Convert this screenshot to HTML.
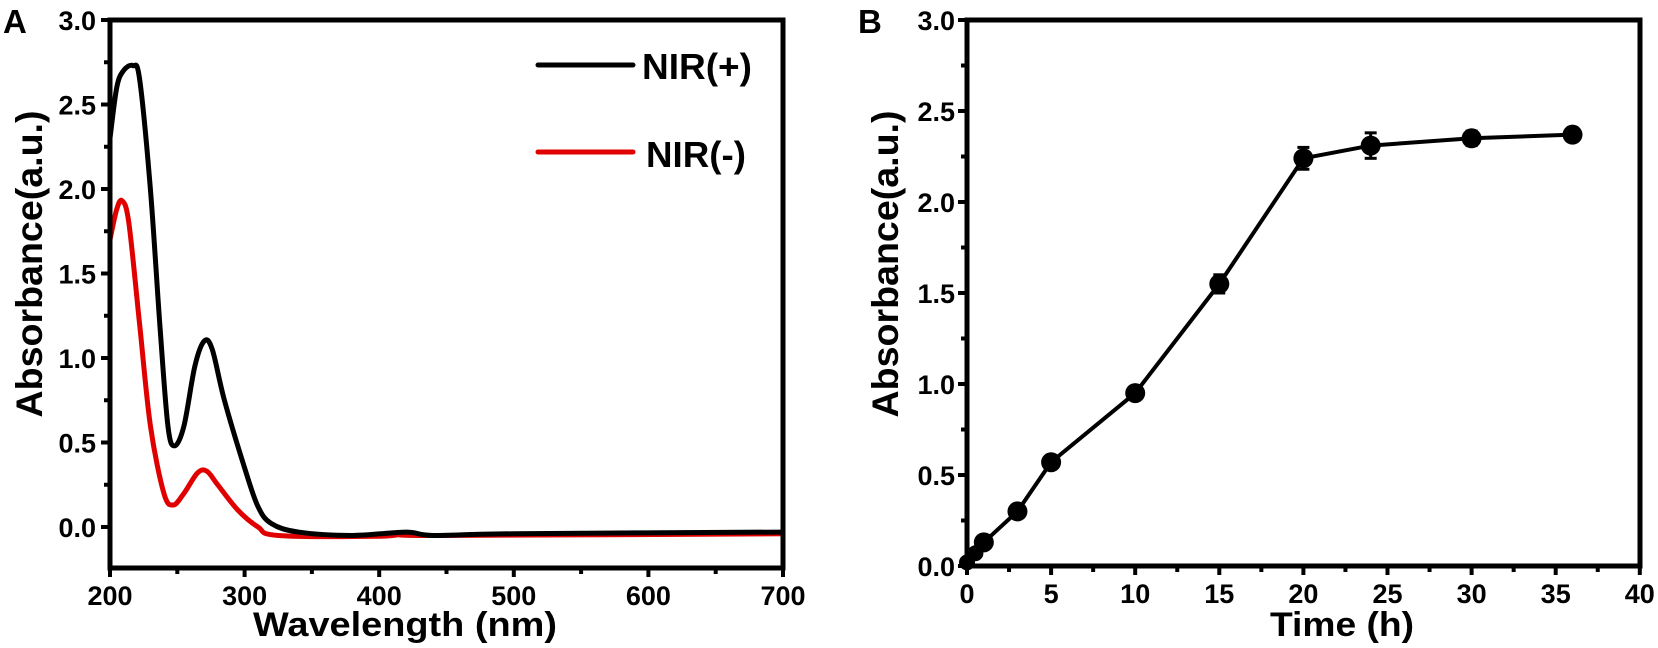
<!DOCTYPE html>
<html><head><meta charset="utf-8"><style>
html,body{margin:0;padding:0;background:#fff;}
svg{display:block;font-family:"Liberation Sans",Arial,sans-serif;font-weight:bold;}
</style></head><body>
<svg id="s" width="1658" height="648" viewBox="0 0 1658 648" xmlns="http://www.w3.org/2000/svg">
<text x="3" y="33" font-size="33">A</text>
<text x="858" y="33" font-size="33">B</text>
<g id="ga"></g><g id="gb"></g>
<text transform="translate(42,264) rotate(-90)" text-anchor="middle" font-size="37" textLength="307" lengthAdjust="spacingAndGlyphs">Absorbance(a.u.)</text>
<text transform="translate(898,264) rotate(-90)" text-anchor="middle" font-size="37" textLength="307" lengthAdjust="spacingAndGlyphs">Absorbance(a.u.)</text>
<text x="405" y="636" text-anchor="middle" font-size="34" textLength="304" lengthAdjust="spacingAndGlyphs">Wavelength (nm)</text>
<text x="1342" y="636" text-anchor="middle" font-size="34" textLength="144" lengthAdjust="spacingAndGlyphs">Time (h)</text>
<line x1="538" y1="65" x2="633" y2="65" stroke="#000" stroke-width="5" stroke-linecap="round"/>
<text x="642" y="79" font-size="36" textLength="110" lengthAdjust="spacingAndGlyphs">NIR(+)</text>
<line x1="538" y1="152" x2="633" y2="152" stroke="#e00000" stroke-width="5" stroke-linecap="round"/>
<text x="646" y="167" font-size="36" textLength="100" lengthAdjust="spacingAndGlyphs">NIR(-)</text>
</svg>
<script>
var NS="http://www.w3.org/2000/svg";
function el(p,t,a,txt){var e=document.createElementNS(NS,t);for(var k in a)e.setAttribute(k,a[k]);if(txt!==undefined)e.textContent=txt;p.appendChild(e);return e;}
var ga=document.getElementById('ga'),gb=document.getElementById('gb');
var L=110,R=783,T=20,B=568;
function ax(w){return L+(w-200)*1.346;} function ay(v){return 527-v*169;}
function smooth(pts,xf,yf){var p=pts.map(function(q){return [xf(q[0]),yf(q[1])];});var d="M"+p[0][0]+","+p[0][1];
for(var i=0;i<p.length-1;i++){var p0=p[i-1]||p[i],p1=p[i],p2=p[i+1],p3=p[i+2]||p2;
d+=" C"+(p1[0]+(p2[0]-p0[0])/6)+","+(p1[1]+(p2[1]-p0[1])/6)+" "+(p2[0]-(p3[0]-p1[0])/6)+","+(p2[1]-(p3[1]-p1[1])/6)+" "+p2[0]+","+p2[1];}return d;}
var red=[[200,1.7],[205,1.88],[209,1.93],[214,1.8],[222,1.2],[230,0.6],[240,0.2],[247,0.13],[255,0.2],[265,0.32],[272,0.33],[280,0.25],[295,0.1],[310,0.0],[325,-0.05],[400,-0.055],[420,-0.04],[440,-0.05],[700,-0.04]];
var blk=[[200,2.3],[205,2.6],[210,2.7],[217,2.73],[222,2.65],[230,2.0],[237,1.2],[243,0.6],[248,0.48],[255,0.6],[263,0.95],[270,1.1],[276,1.05],[285,0.75],[300,0.35],[310,0.12],[320,0.02],[340,-0.03],[380,-0.05],[420,-0.03],[440,-0.05],[500,-0.04],[700,-0.03]];
el(ga,'path',{d:smooth(red,ax,ay),fill:'none',stroke:'#e00000','stroke-width':5,'stroke-linejoin':'round'});
el(ga,'path',{d:smooth(blk,ax,ay),fill:'none',stroke:'#000','stroke-width':5,'stroke-linejoin':'round'});
el(ga,'rect',{x:L,y:T,width:R-L,height:B-T,fill:'none',stroke:'#000','stroke-width':5});
for(var v=0;v<=3.001;v+=0.25){var y=ay(v),maj=Math.abs(v*2-Math.round(v*2))<0.01;
el(ga,'line',{x1:L-(maj?9:6),y1:y,x2:L,y2:y,stroke:'#000','stroke-width':4});
if(maj)el(ga,'text',{x:L-14,y:y+10,'text-anchor':'end','font-size':27},v.toFixed(1));}
for(var w=200;w<=700;w+=50){var x=ax(w),maj=w%100==0;
el(ga,'line',{x1:x,y1:B,x2:x,y2:B+(maj?9:6),stroke:'#000','stroke-width':4});
if(maj)el(ga,'text',{x:x,y:B+37,'text-anchor':'middle','font-size':27},w);}
var L2=967,R2=1640,T2=20,B2=566;
function bx(t){return L2+t*16.82;} function by(v){return 566-v*182;}
var pts=[[0,0.02,0],[0.5,0.07,0],[1,0.13,0.03],[3,0.30,0.02],[5,0.57,0.03],[10,0.95,0.02],[15,1.55,0.05],[20,2.24,0.06],[24,2.31,0.07],[30,2.35,0.04],[36,2.37,0.02]];
el(gb,'polyline',{points:pts.map(function(p){return bx(p[0])+","+by(p[1]);}).join(" "),fill:'none',stroke:'#000','stroke-width':4});
pts.forEach(function(p){var x=bx(p[0]),y=by(p[1]);
if(p[2]>0){el(gb,'line',{x1:x,y1:by(p[1]+p[2]),x2:x,y2:by(p[1]-p[2]),stroke:'#000','stroke-width':3});
el(gb,'line',{x1:x-6,y1:by(p[1]+p[2]),x2:x+6,y2:by(p[1]+p[2]),stroke:'#000','stroke-width':3});
el(gb,'line',{x1:x-6,y1:by(p[1]-p[2]),x2:x+6,y2:by(p[1]-p[2]),stroke:'#000','stroke-width':3});}
el(gb,'circle',{cx:x,cy:y,r:p[0]<1?8:10,fill:'#000'});});
el(gb,'rect',{x:L2,y:T2,width:R2-L2,height:B2-T2,fill:'none',stroke:'#000','stroke-width':5});
for(var v=0;v<=3.001;v+=0.25){var y=by(v),maj=Math.abs(v*2-Math.round(v*2))<0.01;
el(gb,'line',{x1:L2-(maj?9:6),y1:y,x2:L2,y2:y,stroke:'#000','stroke-width':4});
if(maj)el(gb,'text',{x:L2-12,y:y+10,'text-anchor':'end','font-size':27},v.toFixed(1));}
for(var t=0;t<=40;t+=2.5){var x=bx(t),maj=t%5==0;
el(gb,'line',{x1:x,y1:B2,x2:x,y2:B2+(maj?9:6),stroke:'#000','stroke-width':4});
if(maj)el(gb,'text',{x:x,y:B2+37,'text-anchor':'middle','font-size':27},t);}
</script>
</body></html>
